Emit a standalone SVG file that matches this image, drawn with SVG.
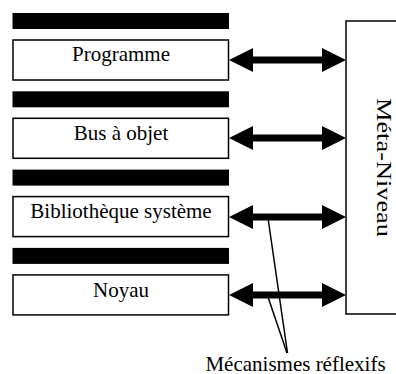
<svg xmlns="http://www.w3.org/2000/svg" xmlns:xlink="http://www.w3.org/1999/xlink" width="396" height="374" viewBox="0 0 396 374">
  <style>
    .bar { fill: #000; }
    .box { fill: #fff; stroke: #000; stroke-width: 1.5; }
    .lbl { font-family: "Liberation Serif", "Times New Roman", serif; font-size: 21px; fill: #000; text-anchor: middle; }
    .ln { stroke: #000; stroke-width: 1.5; fill: none; }
  </style>
  <defs>
    <path id="dblArrow" d="M229,0 L253,-12 L253,-3.6 L322,-3.6 L322,-12 L346,0 L322,12 L322,3.6 L253,3.6 L253,12 Z" fill="#000"/>
  </defs>
  <rect width="396" height="374" fill="#fff"/>

  <g id="meta-niveau">
    <rect class="box" x="346" y="21" width="60" height="293"/>
    <text class="lbl" transform="translate(377,167.5) rotate(90)" x="0" y="0" textLength="139" lengthAdjust="spacingAndGlyphs">Méta-Niveau</text>
  </g>

  <g id="programme">
    <rect class="bar" x="12.5" y="13" width="216.5" height="16"/>
    <rect class="box" x="13" y="40" width="215.5" height="40"/>
    <text class="lbl" x="121" y="61">Programme</text>
  </g>

  <g id="bus-objet">
    <rect class="bar" x="12.5" y="91.3" width="216.5" height="16"/>
    <rect class="box" x="13" y="118.3" width="215.5" height="40"/>
    <text class="lbl" x="121" y="139.5">Bus à objet</text>
  </g>

  <g id="bibliotheque">
    <rect class="bar" x="12.5" y="169.6" width="216.5" height="16"/>
    <rect class="box" x="13" y="196.6" width="215.5" height="40"/>
    <text class="lbl" x="121" y="218">Bibliothèque système</text>
  </g>

  <g id="noyau">
    <rect class="bar" x="12.5" y="247.9" width="216.5" height="16"/>
    <rect class="box" x="13" y="274.9" width="215.5" height="40"/>
    <text class="lbl" x="121" y="296.5">Noyau</text>
  </g>

  <g id="connectors">
    <use xlink:href="#dblArrow" transform="translate(0,60)"/>
    <use xlink:href="#dblArrow" transform="translate(0,138)"/>
    <use xlink:href="#dblArrow" transform="translate(0,217)"/>
    <use xlink:href="#dblArrow" transform="translate(0,295)"/>
    <line class="ln" x1="268" y1="218" x2="287.5" y2="353"/>
    <line class="ln" x1="268" y1="297" x2="287" y2="353"/>
  </g>

  <g id="mecanismes">
    <text class="lbl" x="295.5" y="370.5">Mécanismes réflexifs</text>
  </g>
</svg>
